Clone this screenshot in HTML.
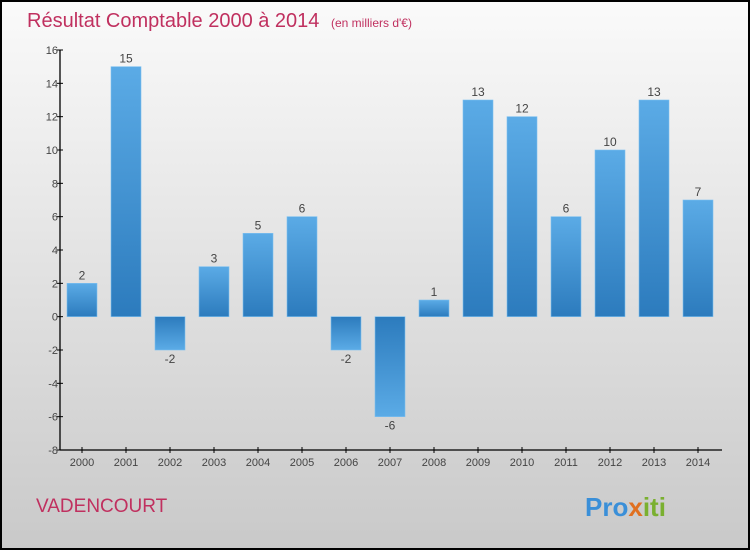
<!DOCTYPE html>
<html><head><meta charset="utf-8"><style>
html,body{margin:0;padding:0}
body{width:750px;height:550px;overflow:hidden}
svg{display:block}
</style></head><body>
<svg id="chart" width="750" height="550" xmlns="http://www.w3.org/2000/svg">
<defs>
<linearGradient id="bg" x1="0" y1="0" x2="0" y2="1"><stop offset="0" stop-color="#fafafa"/><stop offset="1" stop-color="#c9c9c9"/></linearGradient>
<linearGradient id="pos" x1="0" y1="0" x2="0" y2="1"><stop offset="0" stop-color="#5babe6"/><stop offset="1" stop-color="#2c7bbd"/></linearGradient>
<linearGradient id="neg" x1="0" y1="0" x2="0" y2="1"><stop offset="0" stop-color="#2c7bbd"/><stop offset="1" stop-color="#5babe6"/></linearGradient>
</defs>
<rect x="1" y="1" width="748" height="548" fill="url(#bg)" stroke="#000" stroke-width="2"/>
<text x="27" y="27" font-family="Liberation Sans, sans-serif" font-size="20" font-weight="300" fill="#c0305f">Résultat Comptable 2000 à 2014 <tspan font-size="12" dx="6">(en milliers d'€)</tspan></text>
<text x="36" y="512" font-family="Liberation Sans, sans-serif" font-size="19" fill="#c0305f">VADENCOURT</text>
<text x="585" y="516" font-family="Liberation Sans, sans-serif" font-size="26" font-weight="bold"><tspan fill="#3a8fd8">Pro</tspan><tspan fill="#e07020">x</tspan><tspan fill="#7ab030">iti</tspan></text>
<g id="bars"></g>
<g id="axes"></g>
</svg>
<script>
const years=["2000","2001","2002","2003","2004","2005","2006","2007","2008","2009","2010","2011","2012","2013","2014"];
const values=[2,15,-2,3,5,6,-2,-6,1,13,12,6,10,13,7];
const yTicks=[-8,-6,-4,-2,0,2,4,6,8,10,12,14,16];
const NS="http://www.w3.org/2000/svg";
const yMin=-8,yMax=16,plotTop=50,plotBot=450,x0=82,step=44,bw=30,axX=60;
function yPos(v){return plotBot-(v-yMin)/(yMax-yMin)*(plotBot-plotTop);}
function xPos(i){return x0+i*step;}
function mk(t,a,p){const e=document.createElementNS(NS,t);for(const k in a)e.setAttribute(k,a[k]);p.appendChild(e);return e;}
const bars=document.getElementById('bars'),axes=document.getElementById('axes');
values.forEach((v,i)=>{
  const y1=yPos(Math.max(v,0)),y2=yPos(Math.min(v,0));
  const r=mk('rect',{x:xPos(i)-bw/2,y:y1,width:bw,height:y2-y1,fill:v>=0?'url(#pos)':'url(#neg)',stroke:'#7cc0f0','stroke-width':0.6},bars);
  
  
  const t=mk('text',{x:xPos(i),y:v>=0?y1-4:y2+13,'text-anchor':'middle','font-family':'Liberation Sans, sans-serif','font-size':12,fill:'#444'},bars);
  t.textContent=v;
  
  
  const tk=mk('line',{x1:xPos(i),x2:xPos(i),y1:plotBot-3,y2:plotBot+3,stroke:'#000'},axes);
  
  
  const xl=mk('text',{x:xPos(i),y:plotBot+16,'text-anchor':'middle','font-family':'Liberation Sans, sans-serif','font-size':11,fill:'#444'},axes);
  xl.textContent=years[i];
  
  
});
yTicks.forEach(v=>{
  const tk=mk('line',{x1:axX-3,x2:axX+3,y1:yPos(v),y2:yPos(v),stroke:'#000'},axes);
  
  
  const l=mk('text',{x:axX-2,y:yPos(v)+4,'text-anchor':'end','font-family':'Liberation Sans, sans-serif','font-size':11,fill:'#444'},axes);
  l.textContent=v;
  
  
});
const ya=mk('line',{x1:axX,x2:axX,y1:plotTop,y2:plotBot,stroke:'#000','stroke-width':1.3},axes);


const xa=mk('line',{x1:axX,x2:722,y1:plotBot,y2:plotBot,stroke:'#000','stroke-width':1.3},axes);


</script>
</body></html>
